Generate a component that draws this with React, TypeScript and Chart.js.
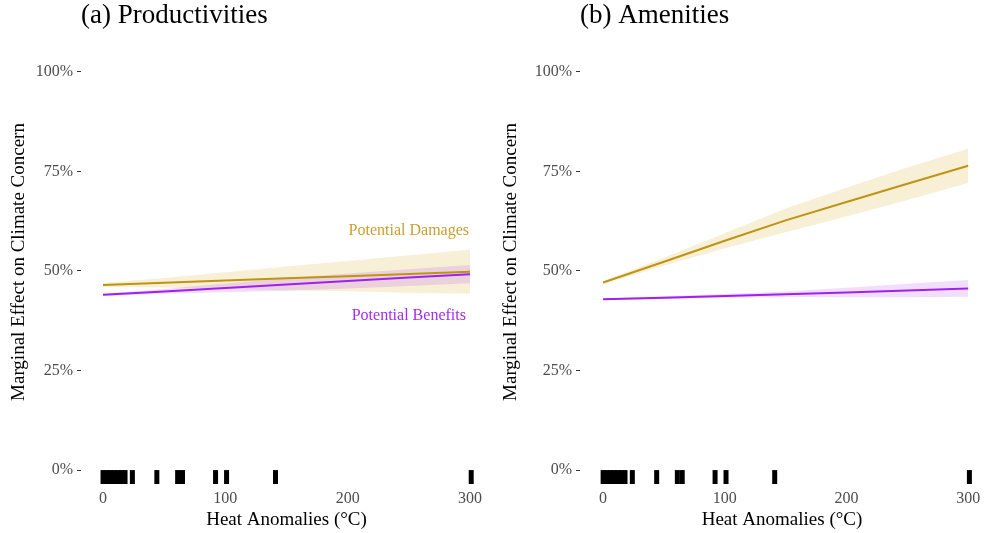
import React, { useEffect, useRef } from "react";
import { Chart, registerables } from "chart.js";

Chart.register(...registerables);

// ---------- data ----------
const xGrid = [0, 50, 100, 150, 200, 250, 300];

// (a) Productivities
const prodDamages = [46.5, 47.05, 47.6, 48.15, 48.7, 49.25, 49.8];
const prodDamagesLo = [46.0, 45.85, 45.5, 45.15, 44.9, 44.55, 44.3];
const prodDamagesHi = [47.0, 48.25, 49.7, 51.15, 52.5, 53.95, 55.3];
const prodBenefits = [44.0, 44.87, 45.73, 46.6, 47.47, 48.33, 49.2];
const prodBenefitsLo = [43.7, 44.27, 44.63, 45.0, 45.57, 46.23, 46.9];
const prodBenefitsHi = [44.3, 45.47, 46.83, 48.2, 49.37, 50.43, 51.5];

// (b) Amenities
const amenDamages = [47.1, 52.3, 57.6, 62.7, 67.3, 71.9, 76.4];
const amenDamagesLo = [46.7, 51.3, 55.7, 59.7, 63.7, 67.8, 72.1];
const amenDamagesHi = [47.5, 53.3, 59.5, 65.7, 70.9, 76.0, 80.7];
const amenBenefits = [42.9, 43.3, 43.7, 44.15, 44.6, 45.1, 45.6];
const amenBenefitsLo = [42.7, 42.95, 43.2, 43.45, 43.4, 43.4, 43.5];
const amenBenefitsHi = [43.1, 43.65, 44.2, 44.85, 45.8, 46.8, 47.7];

// observed heat anomaly values (rug)
const rugValues = [0, 3, 6, 9, 12, 15, 18, 24, 44, 61, 65, 92, 101, 141, 301];
const RUG_LEVEL = -1.76;

const xTicks = [0, 100, 200, 300];
const yTicks = [0, 25, 50, 75, 100];

const seriesLabelTexts = ["Potential Damages", "Potential Benefits"];
const seriesLabelX = [250, 250];
const seriesLabelY = [60, 38.7];

// ---------- style ----------
const FONT = "'Liberation Serif', 'Times New Roman', serif";
const GOLD = "#BE9414";
const GOLD_LABEL = "#C9A030";
const GOLD_FILL = "rgba(218,180,60,0.21)";
const PURPLE = "#A020F0";
const PURPLE_LABEL = "#A52AF0";
const PURPLE_FILL = "rgba(160,32,240,0.15)";
const TRANSPARENT = "rgba(0,0,0,0)";

type PanelCfg = {
  title: string;
  yWidth: number;
  xMin: number;
  xMax: number;
  damages: number[];
  damagesLo: number[];
  damagesHi: number[];
  benefits: number[];
  benefitsLo: number[];
  benefitsHi: number[];
  showLabels: boolean;
};

const panels: PanelCfg[] = [
  {
    title: "(a) Productivities",
    yWidth: 81,
    xMin: -18,
    xMax: 318,
    damages: prodDamages,
    damagesLo: prodDamagesLo,
    damagesHi: prodDamagesHi,
    benefits: prodBenefits,
    benefitsLo: prodBenefitsLo,
    benefitsHi: prodBenefitsHi,
    showLabels: true,
  },
  {
    title: "(b) Amenities",
    yWidth: 88,
    xMin: -19,
    xMax: 313,
    damages: amenDamages,
    damagesLo: amenDamagesLo,
    damagesHi: amenDamagesHi,
    benefits: amenBenefits,
    benefitsLo: amenBenefitsLo,
    benefitsHi: amenBenefitsHi,
    showLabels: false,
  },
];

const pts = (ys: number[]) => xGrid.map((x, i) => ({ x, y: ys[i] }));

function Panel({ cfg }: { cfg: PanelCfg }) {
  const ref = useRef<HTMLCanvasElement>(null);

  useEffect(() => {
    if (!ref.current) return;

    const labelPlugin = {
      id: "seriesLabels",
      afterDatasetsDraw(chart: any) {
        if (!cfg.showLabels) return;
        const { ctx, scales } = chart;
        const colors = [GOLD_LABEL, PURPLE_LABEL];
        seriesLabelTexts.forEach((t, i) => {
          ctx.save();
          ctx.font = `16px ${FONT}`;
          ctx.fillStyle = colors[i];
          ctx.textAlign = "center";
          ctx.textBaseline = "middle";
          ctx.fillText(
            t,
            scales.x.getPixelForValue(seriesLabelX[i]),
            scales.y.getPixelForValue(seriesLabelY[i])
          );
          ctx.restore();
        });
      },
    };

    const base = {
      pointRadius: 0,
      pointHoverRadius: 0,
      tension: 0,
    };

    const chart = new Chart(ref.current, {
      type: "line",
      data: {
        datasets: [
          { ...base, data: pts(cfg.damages), borderColor: GOLD, borderWidth: 2, fill: false, order: 0 },
          { ...base, data: pts(cfg.benefits), borderColor: PURPLE, borderWidth: 2, fill: false, order: 0 },
          {
            data: rugValues.map((x) => ({ x, y: RUG_LEVEL })),
            showLine: false,
            pointStyle: "line",
            rotation: 90,
            pointRadius: 7,
            pointHoverRadius: 7,
            pointBorderWidth: 5,
            borderWidth: 5,
            borderColor: "#000",
            pointBorderColor: "#000",
            backgroundColor: "#000",
            order: 0,
          },
          { ...base, data: pts(cfg.damagesLo), borderColor: TRANSPARENT, borderWidth: 1, fill: false, order: 2 },
          {
            ...base,
            data: pts(cfg.damagesHi),
            borderColor: TRANSPARENT,
            borderWidth: 1,
            backgroundColor: GOLD_FILL,
            fill: { target: 3 },
            order: 2,
          },
          { ...base, data: pts(cfg.benefitsLo), borderColor: TRANSPARENT, borderWidth: 1, fill: false, order: 1 },
          {
            ...base,
            data: pts(cfg.benefitsHi),
            borderColor: TRANSPARENT,
            borderWidth: 1,
            backgroundColor: PURPLE_FILL,
            fill: { target: 5 },
            order: 1,
          },
        ] as any,
      },
      options: {
        animation: false,
        responsive: false,
        maintainAspectRatio: false,
        events: [],
        layout: { padding: 0, autoPadding: false },
        plugins: {
          legend: { display: false },
          tooltip: { enabled: false },
          title: {
            display: true,
            text: cfg.title,
            align: "start",
            fullSize: false,
            color: "#000",
            font: { family: FONT, size: 27, weight: "normal" as any, lineHeight: 1.2 },
            padding: { top: 0, bottom: 7.6 },
          },
        },
        scales: {
          x: {
            type: "linear",
            min: cfg.xMin,
            max: cfg.xMax,
            grid: { display: false, drawTicks: false },
            border: { display: false },
            ticks: {
              color: "#4D4D4D",
              font: { family: FONT, size: 16 },
              padding: 5,
              maxRotation: 0,
            },
            afterBuildTicks: (s: any) => {
              s.ticks = xTicks.map((v) => ({ value: v }));
            },
            afterFit: (s: any) => {
              s.height = 49;
              s.paddingLeft = 0;
              s.paddingRight = 0;
            },
            title: {
              display: true,
              text: "Heat Anomalies (°C)",
              color: "#000",
              font: { family: FONT, size: 19, lineHeight: 1.2 },
              padding: { top: 0, bottom: 2 },
            },
          },
          y: {
            type: "linear",
            min: -3.5,
            max: 108,
            grid: {
              drawOnChartArea: false,
              drawTicks: true,
              tickLength: 4,
              color: "#333",
              lineWidth: 1,
            },
            border: { display: false },
            ticks: {
              color: "#4D4D4D",
              font: { family: FONT, size: 16 },
              padding: 4,
              callback: (v: any) => `${v}%`,
            },
            afterBuildTicks: (s: any) => {
              s.ticks = yTicks.map((v) => ({ value: v }));
            },
            afterFit: (s: any) => {
              s.width = cfg.yWidth;
              s.paddingTop = 0;
              s.paddingBottom = 0;
            },
            title: {
              display: true,
              text: "Marginal Effect on Climate Concern",
              color: "#000",
              font: { family: FONT, size: 19, lineHeight: 1.2 },
              padding: { top: 7.5, bottom: 0 },
            },
          },
        },
      } as any,
      plugins: [labelPlugin],
    });

    return () => chart.destroy();
  }, [cfg]);

  return (
    <div style={{ width: 492, height: 533, position: "relative" }}>
      <canvas ref={ref} width={492} height={533} style={{ width: 492, height: 533, display: "block" }} />
    </div>
  );
}

export default function App() {
  return (
    <div
      style={{
        position: "absolute",
        left: 0,
        top: 0,
        width: 984,
        height: 533,
        display: "flex",
        background: "#fff",
      }}
    >
      {panels.map((p) => (
        <Panel key={p.title} cfg={p} />
      ))}
    </div>
  );
}
